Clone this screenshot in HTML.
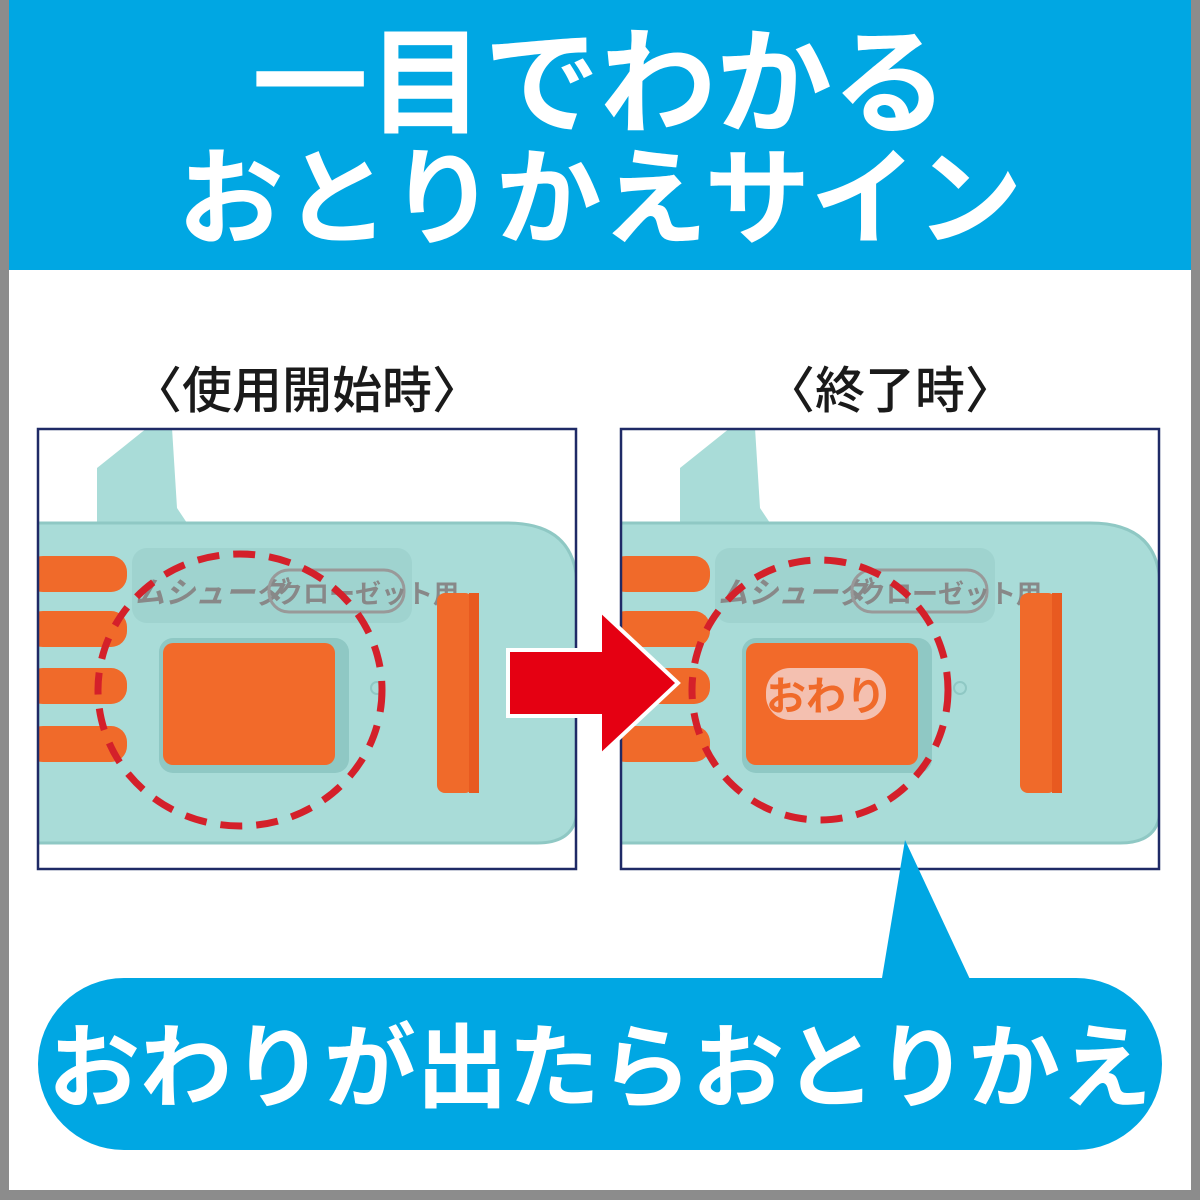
<!DOCTYPE html>
<html><head><meta charset="utf-8"><style>
html,body{margin:0;padding:0;width:1200px;height:1200px;overflow:hidden;background:#8c8c8c}
svg{display:block}
text{font-family:"Liberation Sans","Noto Sans CJK JP",sans-serif;font-weight:bold}
</style></head><body>
<svg width="1200" height="1200" viewBox="0 0 1200 1200">
<rect x="9" y="0" width="1182" height="1190" fill="#fff"/>
<rect x="9" y="0" width="1182" height="270" fill="#00a7e3"/>
<text x="600" y="124" font-size="116" fill="#fff" text-anchor="middle">一目でわかる</text>
<text x="600" y="236" font-size="106" fill="#fff" text-anchor="middle">おとりかえサイン</text>
<text x="307" y="408" font-size="50" fill="#1a1a1a" text-anchor="middle" style="font-weight:500">〈使用開始時〉</text>
<text x="890" y="408" font-size="50" fill="#1a1a1a" text-anchor="middle" style="font-weight:500">〈終了時〉</text>
<defs>
<g id="dev">
<clipPath id="cp"><rect x="0" y="0" width="540" height="442"/></clipPath>
<g clip-path="url(#cp)">
<path d="M60 40 L110 0 L135 0 L140 80 L160 110 L60 110 Z" fill="#a9dcd8"/>
<path d="M0 95 L470 95 Q540 95 540 160 L540 380 Q540 415 500 415 L0 415 Z" fill="#a9dcd8"/>
<path d="M0 95 L470 95 Q540 95 540 160 L540 380 Q540 415 500 415 L0 415 Z" fill="none" stroke="#8fc8c4" stroke-width="3"/>
<rect x="-10" y="128" width="100" height="36" rx="16" fill="#f06a2a"/>
<rect x="-10" y="183" width="100" height="36" rx="16" fill="#f06a2a"/>
<rect x="-10" y="240" width="100" height="36" rx="16" fill="#f06a2a"/>
<rect x="-10" y="298" width="100" height="36" rx="16" fill="#f06a2a"/>
<rect x="95" y="120" width="280" height="75" rx="15" fill="#9fd3cf"/>
<text x="98" y="175" font-size="30" fill="#888" font-style="italic">ムシューダ</text>
<rect x="232" y="142" width="135" height="42" rx="20" fill="none" stroke="#999" stroke-width="3"/>
<text x="240" y="175" font-size="26" fill="#888">クローゼット用</text>
<rect x="122" y="210" width="190" height="135" rx="14" fill="#8fc8c4"/>
<rect x="126" y="215" width="172" height="122" rx="10" fill="#f26a2a"/>
<rect x="400" y="165" width="36" height="200" rx="8" fill="#f06a2a"/>
<rect x="432" y="165" width="10" height="200" fill="#e85a20"/>
<circle cx="340" cy="260" r="6" fill="none" stroke="#8fc8c4" stroke-width="2"/>
</g>
<rect x="1" y="1" width="538" height="440" fill="none" stroke="#1f2a66" stroke-width="2.5"/>
</g>
</defs>
<use href="#dev" x="37" y="428"/>
<use href="#dev" x="620" y="428"/>
<rect x="766" y="668" width="120" height="52" rx="24" fill="#f4c0b0"/>
<text x="826" y="710" font-size="40" fill="#f06a2a" text-anchor="middle">おわり</text>
<ellipse cx="240" cy="690" rx="142" ry="136" fill="none" stroke="#d4202a" stroke-width="7" stroke-dasharray="22 14"/>
<ellipse cx="820" cy="690" rx="128" ry="130" fill="none" stroke="#d4202a" stroke-width="7" stroke-dasharray="22 14"/>
<path d="M508 650 L600 650 L600 610 L678 683 L600 756 L600 716 L508 716 Z" fill="#e50012" stroke="#fff" stroke-width="4"/>
<path d="M880 990 L905 840 L975 990 Z" fill="#00a7e3"/>
<rect x="38" y="978" width="1124" height="172" rx="86" fill="#00a7e3"/>
<text x="600" y="1100" font-size="92" fill="#fff" text-anchor="middle">おわりが出たらおとりかえ</text>
</svg>
</body></html>
